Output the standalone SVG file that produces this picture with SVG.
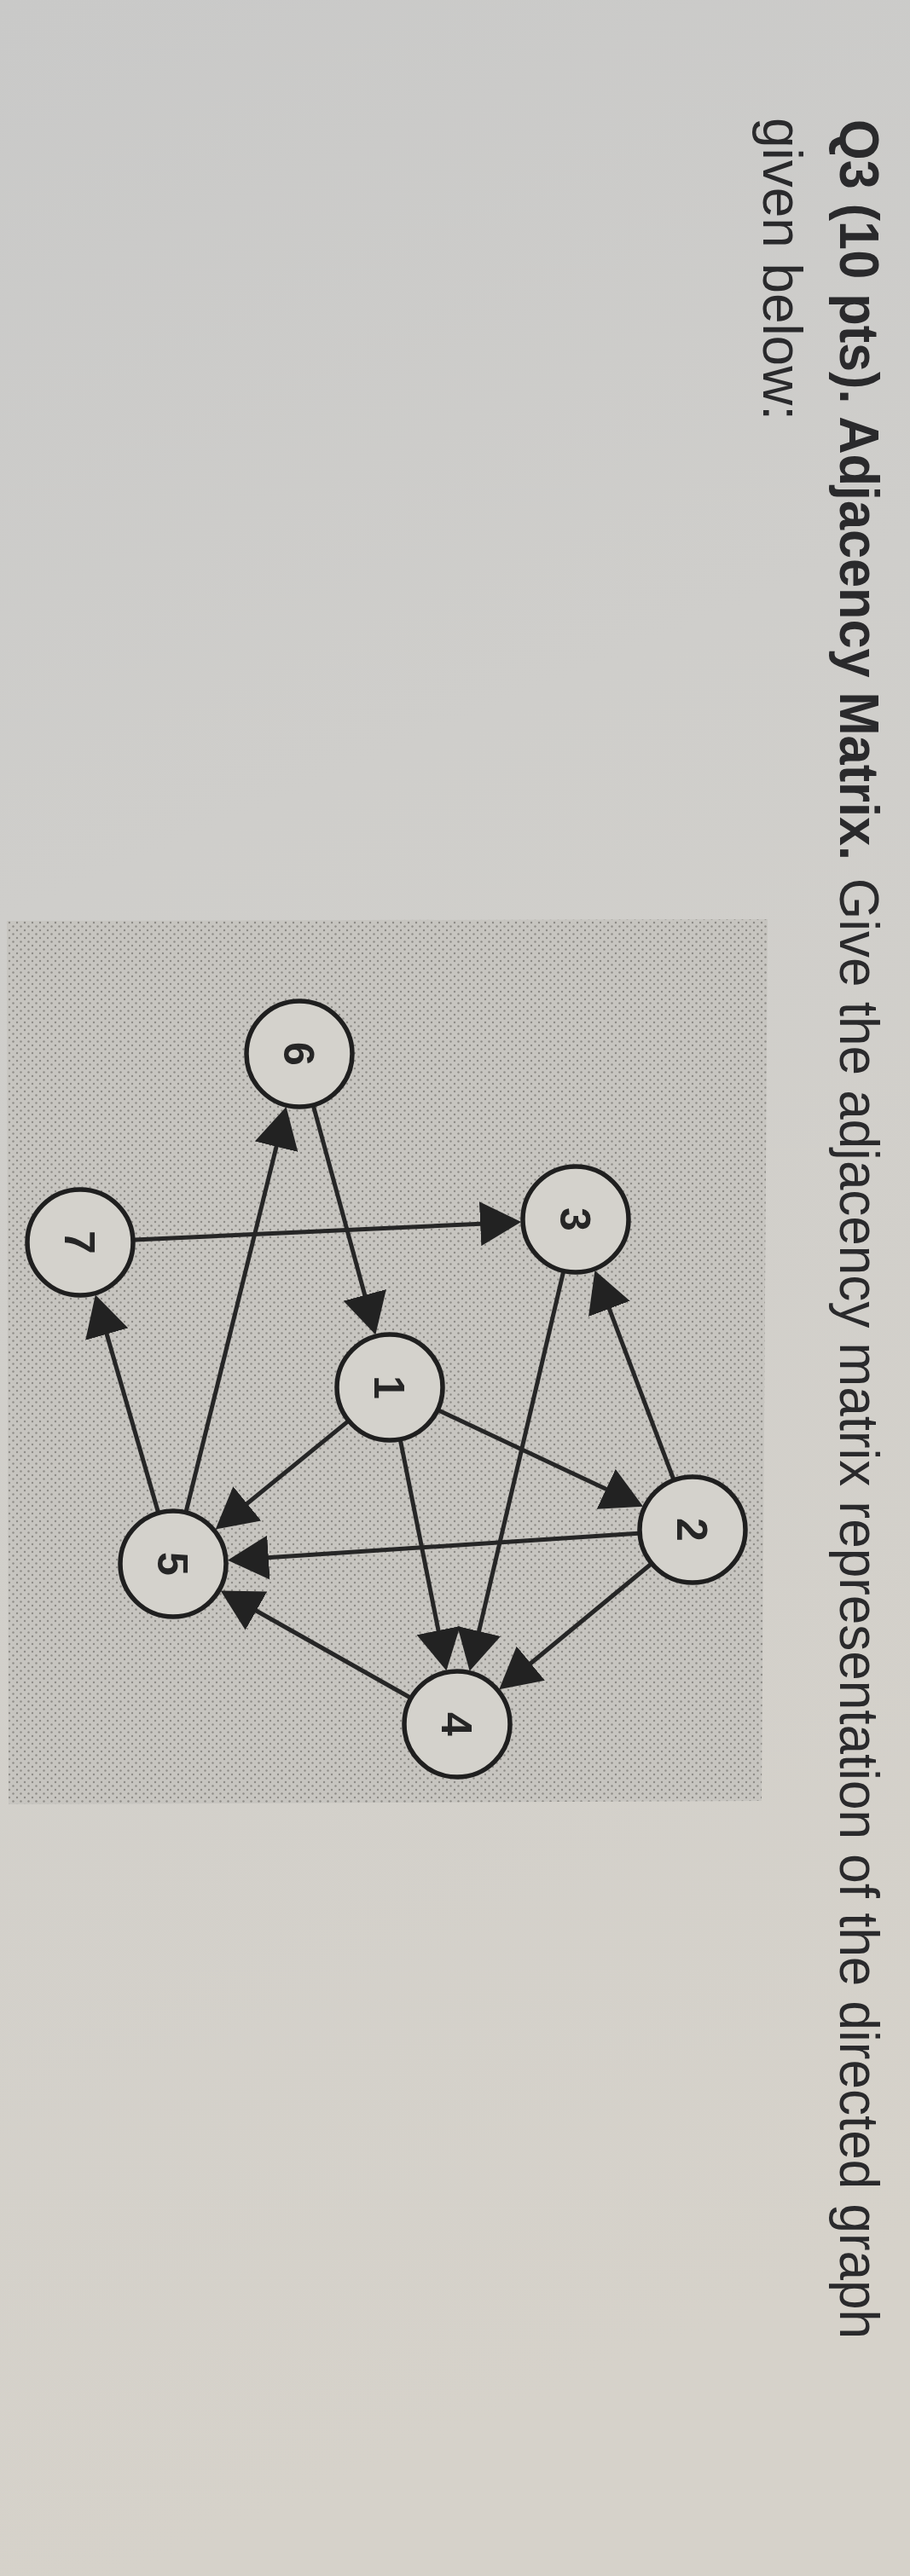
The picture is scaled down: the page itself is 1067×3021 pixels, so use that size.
<svg xmlns="http://www.w3.org/2000/svg" width="1067" height="3021" viewBox="0 0 1067 3021">
  <defs>
    <linearGradient id="paper" x1="0" y1="0" x2="0.15" y2="1">
      <stop offset="0" stop-color="#c9c9c8"/>
      <stop offset="0.35" stop-color="#cfcecb"/>
      <stop offset="1" stop-color="#d6d2ca"/>
    </linearGradient>
    <pattern id="dots" width="9" height="9" patternUnits="userSpaceOnUse">
      <rect width="9" height="9" fill="#c7c5c0"/>
      <circle cx="2" cy="2" r="1.2" fill="#8e8c87"/>
      <circle cx="6.5" cy="6.5" r="1.2" fill="#8e8c87"/>
    </pattern>
    <marker id="arrow" viewBox="0 0 48 52" markerWidth="48" markerHeight="52" refX="28" refY="26" orient="auto" markerUnits="userSpaceOnUse">
      <path d="M0,0 L48,26 L0,52 Z" fill="#222222"/>
    </marker>
    <style>
      .edge { stroke: #262626; stroke-width: 5; fill: none; marker-end: url(#arrow); }
      .node circle { fill: #d4d2cc; stroke: #1f1f1f; stroke-width: 5.5; }
      .node text { font-family: "Liberation Sans", Arial, sans-serif; font-weight: bold; font-size: 50px; fill: #262626; text-anchor: middle; }
      .title { font-family: "Liberation Sans", Arial, sans-serif; font-size: 65px; fill: #2a2a2c; }
      .bold { font-weight: bold; }
    </style>
  </defs>

  <rect x="0" y="0" width="1067" height="3021" fill="url(#paper)"/>
  <polygon points="8,1080 900,1078 893,2112 10,2116" fill="url(#dots)"/>

  <g id="title">
    <text class="title bold" transform="translate(985,140) rotate(90)" textLength="869" lengthAdjust="spacingAndGlyphs">Q3 (10 pts). Adjacency Matrix.</text>
    <text class="title" transform="translate(985,1030) rotate(90)" textLength="1713" lengthAdjust="spacingAndGlyphs">Give the adjacency matrix representation of the directed graph</text>
    <text class="title" transform="translate(895,138) rotate(90)" textLength="355" lengthAdjust="spacingAndGlyphs">given below:</text>
  </g>

  <g id="connectors">
    <line class="edge" x1="367.7" y1="1297.8" x2="435.1" y2="1545.9"/>
    <line class="edge" x1="218.4" y1="1771.9" x2="330.8" y2="1317.5"/>
    <line class="edge" x1="158" y1="1454" x2="591.1" y2="1433.9"/>
    <line class="edge" x1="185.2" y1="1772.5" x2="117.4" y2="1537.7"/>
    <line class="edge" x1="407.4" y1="1667.4" x2="268.1" y2="1781.0"/>
    <line class="edge" x1="514.9" y1="1654.2" x2="736.0" y2="1758.3"/>
    <line class="edge" x1="469.6" y1="1689.8" x2="519.5" y2="1939.6"/>
    <line class="edge" x1="660.4" y1="1492.3" x2="555.2" y2="1940.2"/>
    <line class="edge" x1="789.5" y1="1734.1" x2="704.5" y2="1508.6"/>
    <line class="edge" x1="748.1" y1="1798.2" x2="286.9" y2="1828.5"/>
    <line class="edge" x1="762.7" y1="1834.8" x2="600.7" y2="1968.5"/>
    <line class="edge" x1="480.3" y1="1990.5" x2="276.1" y2="1875.3"/>
  </g>

  <g id="node-1" class="node">
    <circle cx="457" cy="1627" r="62"/>
    <text transform="translate(457,1627) rotate(90)" dy="0.36em">1</text>
  </g>
  <g id="node-2" class="node">
    <circle cx="812" cy="1794" r="62"/>
    <text transform="translate(812,1794) rotate(90)" dy="0.36em">2</text>
  </g>
  <g id="node-3" class="node">
    <circle cx="675" cy="1430" r="62"/>
    <text transform="translate(675,1430) rotate(90)" dy="0.36em">3</text>
  </g>
  <g id="node-4" class="node">
    <circle cx="536" cy="2022" r="62"/>
    <text transform="translate(536,2022) rotate(90)" dy="0.36em">4</text>
  </g>
  <g id="node-5" class="node">
    <circle cx="203" cy="1834" r="62"/>
    <text transform="translate(203,1834) rotate(90)" dy="0.36em">5</text>
  </g>
  <g id="node-6" class="node">
    <circle cx="351" cy="1236" r="62"/>
    <text transform="translate(351,1236) rotate(90)" dy="0.36em">6</text>
  </g>
  <g id="node-7" class="node">
    <circle cx="94" cy="1457" r="62"/>
    <text transform="translate(94,1457) rotate(90)" dy="0.36em">7</text>
  </g>
</svg>
